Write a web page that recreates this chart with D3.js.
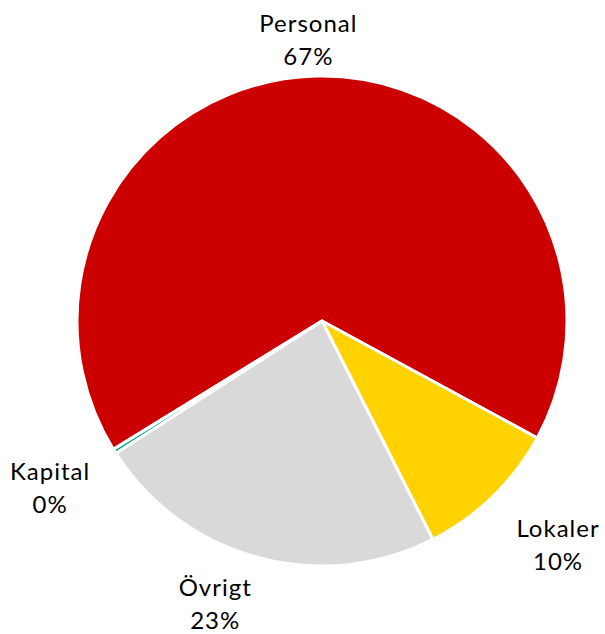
<!DOCTYPE html>
<html>
<head>
<meta charset="utf-8">
<script src="https://cdn.jsdelivr.net/npm/d3@7"></script>
<style>
  body { margin: 0; background: #fff; }
  text { font-family: "Century Gothic", "Lato", sans-serif; font-size: 24px; letter-spacing: 1px; fill: #000; }
</style>
</head>
<body>
<div id="chart"></div>
<script>
// Slices in drawing order (clockwise)
const categories = ['Personal', 'Lokaler', 'Övrigt', 'Kapital'];
const shares = [66.7, 9.6, 23.4, 0.3];
const shareLabels = ['67%', '10%', '23%', '0%'];
const colors = ['#CC0000', '#FFD200', '#D9D9D9', '#00A086'];

const width = 605, height = 634;
const cx = 322, cy = 321, radius = 245;

const svg = d3.select('#chart').append('svg')
  .attr('width', width)
  .attr('height', height);

const startAngle = -121.6 * Math.PI / 180;

const pie = d3.pie()
  .sort(null)
  .value(d => d.value)
  .startAngle(startAngle)
  .endAngle(startAngle + 2 * Math.PI);

const data = categories.map((c, i) => ({name: c, value: shares[i], label: shareLabels[i], color: colors[i]}));
const arcs = pie(data);

const arc = d3.arc().innerRadius(0).outerRadius(radius);

const g = svg.append('g').attr('transform', `translate(${cx},${cy})`);

g.selectAll('path')
  .data(arcs)
  .enter()
  .append('path')
  .attr('d', arc)
  .attr('fill', d => d.data.color)
  .attr('stroke', '#fff')
  .attr('stroke-width', 3)
  .attr('stroke-linejoin', 'round');

// label placement: radius multiplier per slice (outside the pie) + small x nudge
const labelRadius = [1.163, 1.253, 1.18, 1.253];
const labelShift = [-6, 22, -31, -12];
const lineGap = 33;

const labels = svg.append('g').attr('transform', `translate(${cx},${cy})`);

arcs.forEach((d, i) => {
  const mid = (d.startAngle + d.endAngle) / 2;
  const r = radius * labelRadius[i];
  const x = Math.sin(mid) * r + labelShift[i];
  const y = -Math.cos(mid) * r;
  const t = labels.append('text')
    .attr('text-anchor', 'middle');
  t.append('tspan').attr('x', x).attr('y', y - 4).text(d.data.name);
  t.append('tspan').attr('x', x).attr('y', y - 4 + lineGap).text(d.data.label);
});
</script>
</body>
</html>
